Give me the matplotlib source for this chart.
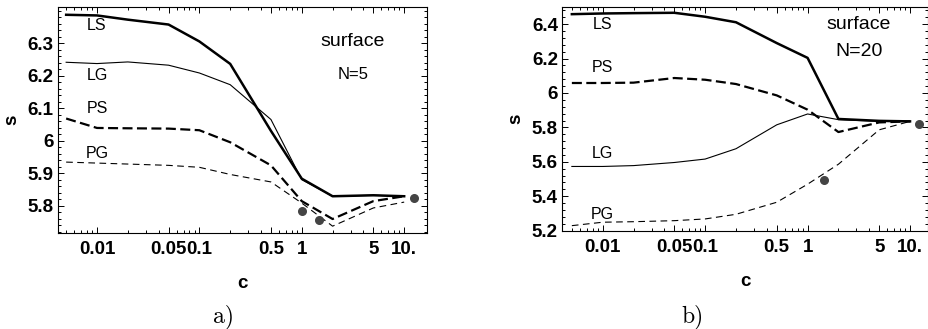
import numpy as np
import matplotlib
matplotlib.use("Agg")
import matplotlib.pyplot as plt
from matplotlib.ticker import FixedLocator, FixedFormatter, LogLocator, NullFormatter

plt.rcParams['font.family'] = ['Liberation Sans', 'DejaVu Sans']

# c values shared by all curves
c = [0.005, 0.01, 0.02, 0.05, 0.1, 0.2, 0.5, 1, 2, 5, 10]

# panel a) surface, N=5
LS_a = [6.387, 6.385, 6.372, 6.357, 6.305, 6.236, 6.03, 5.883, 5.829, 5.832, 5.829]
LG_a = [6.241, 6.237, 6.242, 6.232, 6.208, 6.172, 6.065, 5.88, 5.829, 5.832, 5.829]
PS_a = [6.068, 6.039, 6.038, 6.037, 6.032, 5.995, 5.924, 5.814, 5.759, 5.814, 5.829]
PG_a = [5.934, 5.931, 5.928, 5.924, 5.918, 5.896, 5.873, 5.808, 5.737, 5.793, 5.811]
dots_a_c = [1.0, 1.47, 12.5]
dots_a_s = [5.785, 5.757, 5.824]

# panel b) surface, N=20
LS_b = [6.458, 6.462, 6.464, 6.466, 6.443, 6.411, 6.29, 6.204, 5.849, 5.838, 5.835]
PS_b = [6.058, 6.058, 6.06, 6.087, 6.077, 6.052, 5.986, 5.903, 5.773, 5.829, 5.835]
LG_b = [5.573, 5.573, 5.578, 5.596, 5.616, 5.676, 5.815, 5.878, 5.845, 5.835, 5.835]
PG_b = [5.229, 5.249, 5.252, 5.258, 5.268, 5.295, 5.365, 5.47, 5.586, 5.786, 5.835]
dots_b_c = [1.45, 12.2]
dots_b_s = [5.495, 5.821]

xticks = [0.01, 0.05, 0.1, 0.5, 1, 5, 10]
xlabels = ['0.01', '0.05', '0.1', '0.5', '1', '5', '10.']

yticks_a = [5.8, 5.9, 6.0, 6.1, 6.2, 6.3]
ylabels_a = ['5.8', '5.9', '6', '6.1', '6.2', '6.3']
yticks_b = [5.2, 5.4, 5.6, 5.8, 6.0, 6.2, 6.4]
ylabels_b = ['5.2', '5.4', '5.6', '5.8', '6', '6.2', '6.4']

fig = plt.figure(figsize=(9.29, 3.29), dpi=100)
ax1 = fig.add_axes([0.0624, 0.2918, 0.3972, 0.687])
ax2 = fig.add_axes([0.605, 0.2979, 0.394, 0.681])


def style_axes(ax, yticks, ylabels, yminor):
    ax.set_xscale('log')
    ax.xaxis.set_major_locator(FixedLocator(xticks))
    ax.xaxis.set_major_formatter(FixedFormatter(xlabels))
    ax.xaxis.set_minor_locator(LogLocator(base=10, subs=np.arange(2, 10)))
    ax.xaxis.set_minor_formatter(NullFormatter())
    ax.yaxis.set_major_locator(FixedLocator(yticks))
    ax.yaxis.set_major_formatter(FixedFormatter(ylabels))
    ax.yaxis.set_minor_locator(FixedLocator(yminor))
    ax.tick_params(which='both', direction='in', top=True, right=True, width=0.7)
    ax.tick_params(which='major', length=4.5)
    ax.tick_params(which='minor', length=2.5)
    ax.tick_params(axis='y', which='major', pad=3)
    ax.tick_params(axis='x', which='major', pad=6)
    for lab in ax.get_xticklabels() + ax.get_yticklabels():
        lab.set_fontweight('bold')
        lab.set_fontsize(13.5)
    for sp in ax.spines.values():
        sp.set_linewidth(0.8)
    ax.set_xlabel('c', fontsize=13.5, fontweight='bold', labelpad=12)
    ax.set_ylabel('s', fontsize=13.5, fontweight='bold', labelpad=5)


# panel a
ax1.plot(c, LS_a, color='k', lw=1.8)
ax1.plot(c, LG_a, color='k', lw=0.8)
ax1.plot(c, PS_a, color='k', lw=1.6, dashes=(4.5, 2))
ax1.plot(c, PG_a, color='k', lw=0.8, dashes=(6, 4))
ax1.scatter(dots_a_c, dots_a_s, s=30, color='#444444', zorder=3)
ax1.set_xlim(0.00416, 16.7)
ax1.set_ylim(5.716, 6.411)
style_axes(ax1, yticks_a, ylabels_a, np.arange(5.72, 6.41, 0.02))
ax1.text(0.01, 6.353, 'LS', fontsize=11.5, ha='center', va='center')
ax1.text(0.01, 6.200, 'LG', fontsize=11.5, ha='center', va='center')
ax1.text(0.01, 6.100, 'PS', fontsize=11.5, ha='center', va='center')
ax1.text(0.01, 5.959, 'PG', fontsize=11.5, ha='center', va='center')
ax1.text(3.16, 6.305, 'surface', fontsize=14, ha='center', va='center')
ax1.text(3.16, 6.203, 'N=5', fontsize=12, ha='center', va='center')

# panel b
ax2.plot(c, LS_b, color='k', lw=1.8)
ax2.plot(c, LG_b, color='k', lw=0.8)
ax2.plot(c, PS_b, color='k', lw=1.6, dashes=(4.5, 2))
ax2.plot(c, PG_b, color='k', lw=0.8, dashes=(6, 4))
ax2.scatter(dots_b_c, dots_b_s, s=30, color='#444444', zorder=3)
ax2.set_xlim(0.00401, 15.0)
ax2.set_ylim(5.198, 6.50)
style_axes(ax2, yticks_b, ylabels_b, np.arange(5.2, 6.5, 0.04))
ax2.text(0.01, 6.398, 'LS', fontsize=11.5, ha='center', va='center')
ax2.text(0.01, 6.146, 'PS', fontsize=11.5, ha='center', va='center')
ax2.text(0.01, 5.650, 'LG', fontsize=11.5, ha='center', va='center')
ax2.text(0.01, 5.291, 'PG', fontsize=11.5, ha='center', va='center')
ax2.text(3.15, 6.398, 'surface', fontsize=14, ha='center', va='center')
ax2.text(3.15, 6.242, 'N=20', fontsize=14, ha='center', va='center')

fig.text(224 / 929, 1 - 317 / 329, 'a)', fontsize=17, family='cmr10', ha='center', va='center')
fig.text(692 / 929, 1 - 317 / 329, 'b)', fontsize=17, family='cmr10', ha='center', va='center')

fig.savefig('out.png', dpi=100)
